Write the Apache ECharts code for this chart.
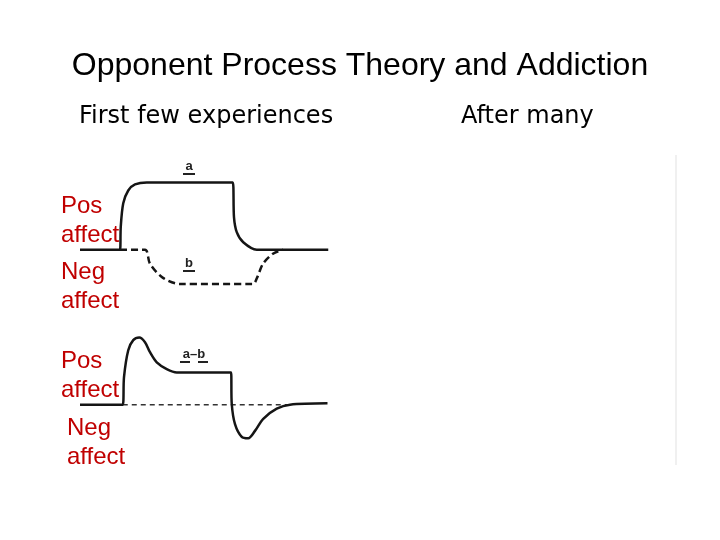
<!DOCTYPE html>
<html>
<head>
<meta charset="utf-8">
<script src="https://cdn.jsdelivr.net/npm/echarts@6/dist/echarts.min.js"></script>
<style>
  html, body { margin: 0; padding: 0; background: #fff; }
  #chart { width: 720px; height: 540px; }
</style>
</head>
<body>
<div id="chart"></div>
<script>
// first few experiences: primary process a, opponent process b (time, affect)
var aCurve = [[0, 0], [16, 0], [16.3, 0.34], [17.3, 0.69], [19.3, 0.88], [22, 0.97], [26.7, 1.0],
    [61.1, 1.0], [61.6, 0.48], [62.7, 0.26], [65.3, 0.11], [70.7, 0], [99.3, 0]];
var bCurve = [[16, 0], [26, 0], [28, -0.21], [33.2, -0.42], [40, -0.51], [69.2, -0.51],
    [70.8, -0.42], [73.2, -0.21], [77.2, -0.06], [81.2, 0]];
// net affect a - b
var abCurve = [[0, 0], [17.1, 0], [17.6, 0.41], [19.3, 0.81], [21.3, 0.96], [23.7, 1.0], [26, 0.93],
    [28, 0.78], [30.7, 0.63], [34.7, 0.53], [38.7, 0.48], [60.4, 0.48], [60.7, 0.01], [62, -0.29],
    [64.7, -0.48], [67.3, -0.5], [70, -0.39], [73.3, -0.21], [78.7, -0.06], [84, 0], [99, 0.02]];
var abBaseline = [[17.1, 0], [84, 0]];

var redLabels = [
    ['Pos', 61, 206], ['affect', 61, 235], ['Neg', 61, 272], ['affect', 61, 301],
    ['Pos', 61, 361], ['affect', 61, 390], ['Neg', 67, 428], ['affect', 67, 457]
];

var myChart = echarts.init(document.getElementById('chart'));

var graphics = [
    { type: 'text', style: { text: 'Opponent Process Theory and Addiction', x: 360, y: 66,
        font: '32px "Liberation Sans", Arial', fill: '#000', align: 'center', verticalAlign: 'middle' } },
    { type: 'text', style: { text: 'First few experiences', x: 79, y: 117,
        font: '24px "DejaVu Sans"', fill: '#000', align: 'left', verticalAlign: 'middle' } },
    { type: 'text', style: { text: 'After many', x: 461, y: 117,
        font: '24px "DejaVu Sans"', fill: '#000', align: 'left', verticalAlign: 'middle' } },
    // curve tags a, b, a-b with underline
    { type: 'text', style: { text: 'a', x: 189, y: 166, font: 'bold 13px "Liberation Sans"', fill: '#222', align: 'center', verticalAlign: 'middle' } },
    { type: 'line', shape: { x1: 183, y1: 174, x2: 195, y2: 174 }, style: { stroke: '#222', lineWidth: 2 } },
    { type: 'text', style: { text: 'b', x: 189, y: 263, font: 'bold 13px "Liberation Sans"', fill: '#222', align: 'center', verticalAlign: 'middle' } },
    { type: 'line', shape: { x1: 183, y1: 271, x2: 195, y2: 271 }, style: { stroke: '#222', lineWidth: 2 } },
    { type: 'text', style: { text: 'a\u2013b', x: 194, y: 354, font: 'bold 13px "Liberation Sans"', fill: '#222', align: 'center', verticalAlign: 'middle' } },
    { type: 'line', shape: { x1: 180, y1: 362, x2: 190, y2: 362 }, style: { stroke: '#222', lineWidth: 2 } },
    { type: 'line', shape: { x1: 198, y1: 362, x2: 208, y2: 362 }, style: { stroke: '#222', lineWidth: 2 } },
    // faint edge of the right-hand picture
    { type: 'line', shape: { x1: 676, y1: 155, x2: 676, y2: 465 }, style: { stroke: '#f0f0f0', lineWidth: 2 } }
];
redLabels.forEach(function(l) {
    graphics.push({ type: 'text', style: { text: l[0], x: l[1], y: l[2],
        font: '24px "Liberation Sans", Arial', fill: '#c00000', align: 'left', verticalAlign: 'middle' } });
});

function hiddenX(idx) {
    return { type: 'value', gridIndex: idx, min: 0, max: 100, show: false };
}
function hiddenY(idx) {
    return { type: 'value', gridIndex: idx, min: -0.6, max: 1.2, show: false };
}

var option = {
    backgroundColor: '#fff',
    animation: false,
    grid: [
        { left: 80, width: 250, top: 169, height: 121 },
        { left: 80, width: 250, top: 324, height: 121 }
    ],
    xAxis: [hiddenX(0), hiddenX(1)],
    yAxis: [hiddenY(0), hiddenY(1)],
    series: [
        {
            name: 'a', type: 'line', xAxisIndex: 0, yAxisIndex: 0, data: aCurve,
            smooth: 0.3, showSymbol: false, z: 3,
            lineStyle: { color: '#151515', width: 2.5 }
        },
        {
            name: 'b', type: 'line', xAxisIndex: 0, yAxisIndex: 0, data: bCurve,
            smooth: 0.3, showSymbol: false, z: 2,
            lineStyle: { color: '#151515', width: 2.5, type: [7, 4] }
        },
        {
            name: 'a-b', type: 'line', xAxisIndex: 1, yAxisIndex: 1, data: abCurve,
            smooth: 0.3, showSymbol: false, z: 3,
            lineStyle: { color: '#151515', width: 2.5 }
        },
        {
            name: 'baseline', type: 'line', xAxisIndex: 1, yAxisIndex: 1, data: abBaseline,
            showSymbol: false, z: 2,
            lineStyle: { color: '#333', width: 1.5, type: [5, 4] }
        }
    ],
    graphic: graphics
};

myChart.setOption(option);
</script>
</body>
</html>
